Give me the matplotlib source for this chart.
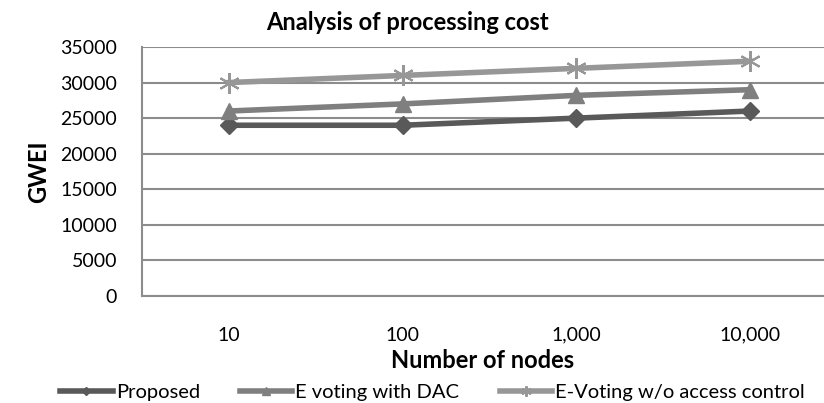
import matplotlib
matplotlib.use("Agg")
import matplotlib.pyplot as plt

plt.rcParams['font.family'] = ['Lato', 'DejaVu Sans']

nodes = ['10', '100', '1,000', '10,000']
proposed = [24000, 24000, 25000, 26000]
dac = [26000, 27000, 28200, 29000]
no_access = [30000, 31000, 32000, 33000]

fig = plt.figure(figsize=(8.24, 4.03), dpi=100)
ax = fig.add_axes([0.1723, 0.2655, 0.8277, 0.6179])

x = range(len(nodes))
ax.plot(x, proposed, color='#595959', lw=4, marker='D', ms=9, label='Proposed')
ax.plot(x, dac, color='#7f7f7f', lw=4, marker='^', ms=12, label='E voting with DAC')
ax.plot(x, no_access, color='#979797', lw=4, marker=(6, 2, 0), ms=15, mew=1.5,
        label='E-Voting w/o access control')

ax.set_xlim(-0.5, 3.425)
ax.set_ylim(0, 35000)
ax.set_yticks(range(0, 35001, 5000))
ax.set_xticks(list(x))
ax.set_xticklabels(nodes)
ax.tick_params(length=0, labelsize=14)
ax.tick_params(axis='y', pad=18)
ax.tick_params(axis='x', pad=22)
ax.grid(axis='y', color='#8c8c8c', lw=1.5)
ax.set_axisbelow(True)
for s in ['top', 'right']:
    ax.spines[s].set_visible(False)
for s in ['left', 'bottom']:
    ax.spines[s].set_color('#8c8c8c')
    ax.spines[s].set_linewidth(1.5)

ax.set_xlabel('Number of nodes', fontsize=17, fontweight='bold', labelpad=4)
ax.set_ylabel('GWEI', fontsize=17, fontweight='bold', labelpad=7)
fig.text(0.494, 0.945, 'Analysis of processing cost', ha='center', va='center',
         fontsize=17, fontweight='bold')

fig.legend(loc='center', bbox_to_anchor=(0.525, 0.027), ncol=3, frameon=False,
           fontsize=14.5, handlelength=2.6, columnspacing=2.0, handletextpad=0.15,
           markerscale=0.5, borderaxespad=0)

fig.savefig('out.png', dpi=100)
